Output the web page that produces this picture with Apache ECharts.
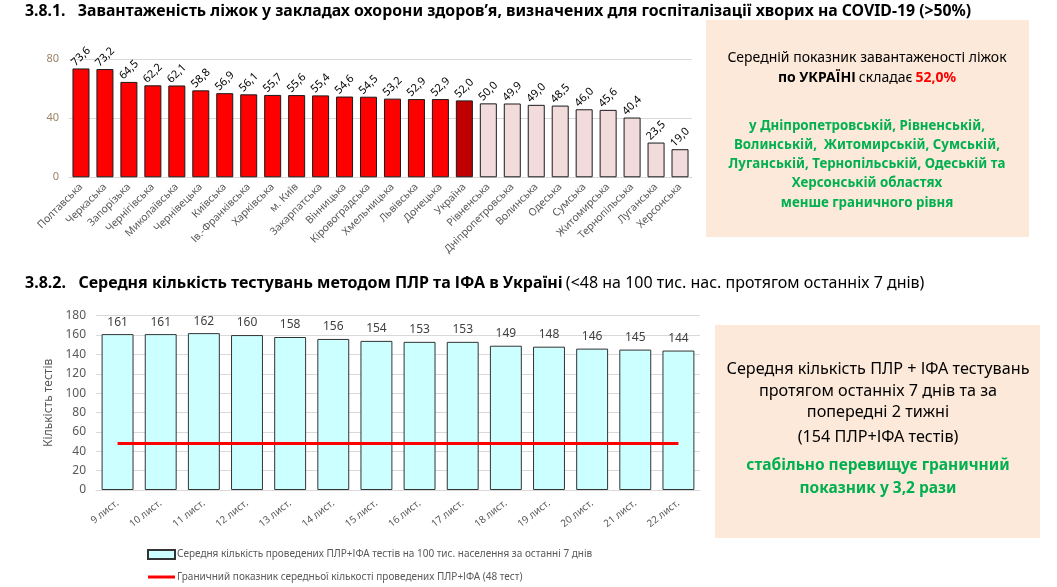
<!DOCTYPE html>
<html><head><meta charset="utf-8">
<script src="https://cdn.jsdelivr.net/npm/echarts@6/dist/echarts.min.js"></script>
<style>html,body{margin:0;padding:0;background:#fff}#c{width:1057px;height:587px}</style>
</head><body><div id="c"></div>
<script>
const regions = ['Полтавська','Черкаська','Запорізька','Чернігівська','Миколаївська','Чернівецька','Київська','Ів.-Франківська','Харківська','м. Київ','Закарпатська','Вінницька','Кіровоградська','Хмельницька','Львівська','Донецька','Україна','Рівненська','Дніпропетровська','Волинська','Одеська','Сумська','Житомирська','Тернопільська','Луганська','Херсонська'];
const bedLoad = [73.6,73.2,64.5,62.2,62.1,58.8,56.9,56.1,55.7,55.6,55.4,54.6,54.5,53.2,52.9,52.9,52.0,50.0,49.9,49.0,48.5,46.0,45.6,40.4,23.5,19.0];
const dates = ['9 лист.','10 лист.','11 лист.','12 лист.','13 лист.','14 лист.','15 лист.','16 лист.','17 лист.','18 лист.','19 лист.','20 лист.','21 лист.','22 лист.'];
const tests = [161,161,162,160,158,156,154,153,153,149,148,146,145,144];
const threshold = [48,48,48,48,48,48,48,48,48,48,48,48,48,48];
const testsName = 'Середня кількість проведених ПЛР+ІФА тестів на 100 тис. населення за останні 7 днів';
const thrName = 'Граничний показник середньої кількості проведених ПЛР+ІФА (48 тест)';

const F = 'Noto Sans';
const chart = echarts.init(document.getElementById('c'));
const green = '#00B050';
function t(x, y, text, opts) {
  return {type:'text', x:x, y:y, style:Object.assign({text:text, fontFamily:F, fontSize:14, fill:'#000', align:'center', verticalAlign:'middle'}, opts||{})};
}
chart.setOption({
  animation:false,
  textStyle:{fontFamily:F},
  legend:{
    data:[{name:testsName, icon:'rect'}, {name:thrName, icon:'path://M0,0 L27,0 L27,3 L0,3 Z', itemStyle:{color:'#FF0000'}}],
    orient:'vertical', left:142, top:544, itemGap:12, itemWidth:27, itemHeight:9,
    textStyle:{fontSize:10, color:'#595959', fontFamily:F, padding:[0,0,0,-3]}
  },
  grid:[
    {left:69, top:59, width:623, height:118.3},
    {left:96, top:315.7, width:604, height:174.3}
  ],
  xAxis:[
    {gridIndex:0, type:'category', data:regions,
     axisLine:{lineStyle:{color:'#D9D9D9'}}, axisTick:{show:false},
     axisLabel:{rotate:45, fontSize:10.5, color:'#595959', interval:0, margin:8}},
    {gridIndex:1, type:'category', data:dates,
     axisLine:{lineStyle:{color:'#D9D9D9'}}, axisTick:{show:false},
     axisLabel:{rotate:38, fontSize:10, color:'#595959', interval:0, margin:12}}
  ],
  yAxis:[
    {gridIndex:0, type:'value', min:0, max:80, interval:40,
     axisLine:{show:false}, axisTick:{show:false},
     splitLine:{lineStyle:{color:'#D9D9D9'}},
     axisLabel:{fontSize:11, color:'#9C8468', margin:10}},
    {gridIndex:1, type:'value', min:0, max:180, interval:20,
     axisLine:{show:false}, axisTick:{show:false},
     splitLine:{lineStyle:{color:'#D9D9D9'}},
     axisLabel:{fontSize:12, color:'#595959', margin:10},
     name:'Кількість тестів', nameLocation:'middle', nameGap:40,
     nameTextStyle:{fontSize:12, color:'#595959'}}
  ],
  series:[
    {type:'bar', xAxisIndex:0, yAxisIndex:0, data:bedLoad, barCategoryGap:'29%',
     itemStyle:{borderColor:'#1a1a1a', borderWidth:1,
       color:function(p){ return p.name==='Україна' ? '#C00000' : (p.value<52 ? '#F2DCDB' : '#FF0000'); }},
     label:{show:true, position:'top', distance:12, rotate:45, align:'center', verticalAlign:'middle',
       fontSize:11, color:'#000', formatter:function(p){return p.value.toFixed(1).replace('.',',');}}},
    {type:'bar', name:testsName, xAxisIndex:1, yAxisIndex:1, data:tests, barCategoryGap:'26%',
     itemStyle:{color:'#CCFFFF', borderColor:'#333', borderWidth:1},
     label:{show:true, position:'top', distance:6, fontSize:12, color:'#404040'}},
    {type:'line', name:thrName, xAxisIndex:1, yAxisIndex:1, data:threshold, symbol:'none',
     lineStyle:{color:'#FF0000', width:3}, itemStyle:{color:'#FF0000'}}
  ],
  graphic:[
    {type:'text', x:25, y:11, style:{text:'3.8.1.   Завантаженість ліжок у закладах охорони здоров’я, визначених для госпіталізації хворих на COVID-19 (>50%)', fontFamily:F, fontSize:15.8, fontWeight:'bold', fill:'#000', verticalAlign:'middle'}},
    {type:'text', x:25, y:283, style:{text:'{b|3.8.2.   Середня кількість тестувань методом ПЛР та ІФА в Україні} {r|(<48 на 100 тис. нас. протягом останніх 7 днів)}', fontFamily:F, verticalAlign:'middle',
      rich:{b:{fontFamily:F, fontSize:16, fontWeight:'bold', fill:'#000'}, r:{fontFamily:F, fontSize:16, fill:'#000'}}}},
    {type:'rect', shape:{x:706, y:20, width:323, height:217}, style:{fill:'#FDE9D9'}},
    t(867, 58, 'Середній показник завантаженості ліжок'),
    {type:'text', x:867, y:78, style:{text:'{b|по УКРАЇНІ} {n|складає} {r|52,0%}', align:'center', verticalAlign:'middle', fontFamily:F,
      rich:{b:{fontFamily:F, fontSize:14, fontWeight:'bold', fill:'#000'}, n:{fontFamily:F, fontSize:14, fill:'#000'}, r:{fontFamily:F, fontSize:14, fontWeight:'bold', fill:'#FF0000'}}}},
    t(867, 126, 'у Дніпропетровській, Рівненській,', {fontSize:13.3, fontWeight:'bold', fill:green}),
    t(867, 145, 'Волинській,  Житомирській, Сумській,', {fontSize:13.3, fontWeight:'bold', fill:green}),
    t(867, 164, 'Луганській, Тернопільській, Одеській та', {fontSize:13.3, fontWeight:'bold', fill:green}),
    t(867, 183, 'Херсонській областях', {fontSize:13.3, fontWeight:'bold', fill:green}),
    t(867, 203, 'менше граничного рівня', {fontSize:13.3, fontWeight:'bold', fill:green}),
    {type:'rect', shape:{x:715, y:325, width:325, height:213}, style:{fill:'#FDE9D9'}},
    t(878, 369, 'Середня кількість ПЛР + ІФА тестувань', {fontSize:16.2}),
    t(878, 391, 'протягом останніх 7 днів та за', {fontSize:16.2}),
    t(878, 412, 'попередні 2 тижні', {fontSize:16.2}),
    t(878, 437, '(154 ПЛР+ІФА тестів)', {fontSize:16.2}),
    t(878, 466, 'стабільно перевищує граничний', {fontSize:15.5, fontWeight:'bold', fill:green}),
    t(878, 489, 'показник у 3,2 рази', {fontSize:15.5, fontWeight:'bold', fill:green})
  ]
});
</script></body></html>
